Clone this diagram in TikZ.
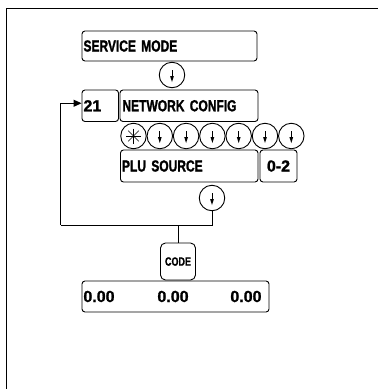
\documentclass[tikz,border=0pt]{standalone}
\usepackage{fontspec}
\setmainfont{Liberation Sans}
\newfontfamily\lblfont[FakeStretch=0.75, BoldFeatures={FakeBold=1.3}]{Liberation Sans}
\newfontfamily\numfont[BoldFeatures={FakeBold=1.3}]{Liberation Sans}
\usetikzlibrary{arrows.meta}
\tikzset{
  box/.style={draw, line width=0.9pt, rounded corners=3pt, inner xsep=1.5pt, inner ysep=0pt, align=left,
    font=\lblfont\bfseries\fontsize{16}{19}\selectfont},
  numbox/.style={draw, line width=0.9pt, rounded corners=3pt, inner sep=0pt, align=center,
    font=\numfont\bfseries\fontsize{16}{19}\selectfont},
  key/.style={draw, circle, line width=0.9pt, minimum size=25.5pt, inner sep=0pt},
  numtxt/.style={inner sep=0pt, font=\numfont\bfseries\fontsize{16}{19}\selectfont},
  conn/.style={line width=1pt},
  downsym/.pic={
    \draw[line width=0.7pt] (0,-5) -- (0,3);
    \fill (-1.9,1) -- (1.9,1) -- (0,7) -- cycle;
  },
  starsym/.pic={
    \foreach \a in {0,45,90,135}{\draw[line width=0.7pt] (\a:7.5pt) -- (\a+180:7.5pt);}
  }
}
\begin{document}
\begin{tikzpicture}[x=1pt,y=-1pt]
\useasboundingbox (0,0) rectangle (378,389);
% frame
\draw[line width=1.8pt] (6.5,389) -- (6.5,8.5) -- (378,8.5);
% boxes
\node[box, minimum width=175pt, text width=172pt, minimum height=30pt] (sm) at (169.5,46) {SERVICE MODE};
\node[key] (c0) at (172,75) {};
\pic at (c0.center) {downsym};
\node[numbox, minimum width=36.5pt, minimum height=31.5pt, text width=33.5pt, align=left, inner xsep=1.5pt] (n21) at (100.25,105.75) {21};
\node[box, minimum width=138pt, text width=133pt, minimum height=31.5pt, inner xsep=2.5pt] (nc) at (189,105.75) {NETWORK CONFIG};
% key row
\node[key] (k0) at (133.5,136) {};
\pic at (k0.center) {starsym};
\foreach \i in {1,...,6}{
  \node[key] (k\i) at (133.5+26.3*\i,136) {};
  \pic at (k\i.center) {downsym};
}
\node[box, minimum width=137.5pt, text width=134.5pt, minimum height=32pt] (plu) at (189.25,166) {PLU SOURCE};
\node[numbox, minimum width=37pt, minimum height=32pt] (r02) at (278.5,166) {0-2};
\node[key] (c8) at (212,198) {};
\pic at (c8.center) {downsym};
% connectors
\coordinate (jl) at (60.7,225);
\node[draw, line width=0.9pt, rounded corners=5pt, minimum width=35pt, minimum height=37pt, inner sep=0pt,
  font=\lblfont\bfseries\fontsize{12}{14}\selectfont] (code) at (178,261.5) {CODE};
\draw[conn] (c8.south) |- (jl);
\draw[conn, -{Triangle[length=8pt,width=7pt]}] (jl) |- ([yshift=2.5pt]n21.west);
\draw[conn] (code.north) -- (code.north |- jl);
% values
\node[draw, line width=0.9pt, rounded corners=3pt, minimum width=187pt, minimum height=31pt, inner sep=0pt] (vals) at (175.5,296.5) {};
\node[numtxt, anchor=west] (v1) at (83.2,296.5) {0.00};
\node[numtxt] (v2) at (173,296.5) {0.00};
\node[numtxt, anchor=east] (v3) at (261.7,296.5) {0.00};
\end{tikzpicture}
\end{document}
